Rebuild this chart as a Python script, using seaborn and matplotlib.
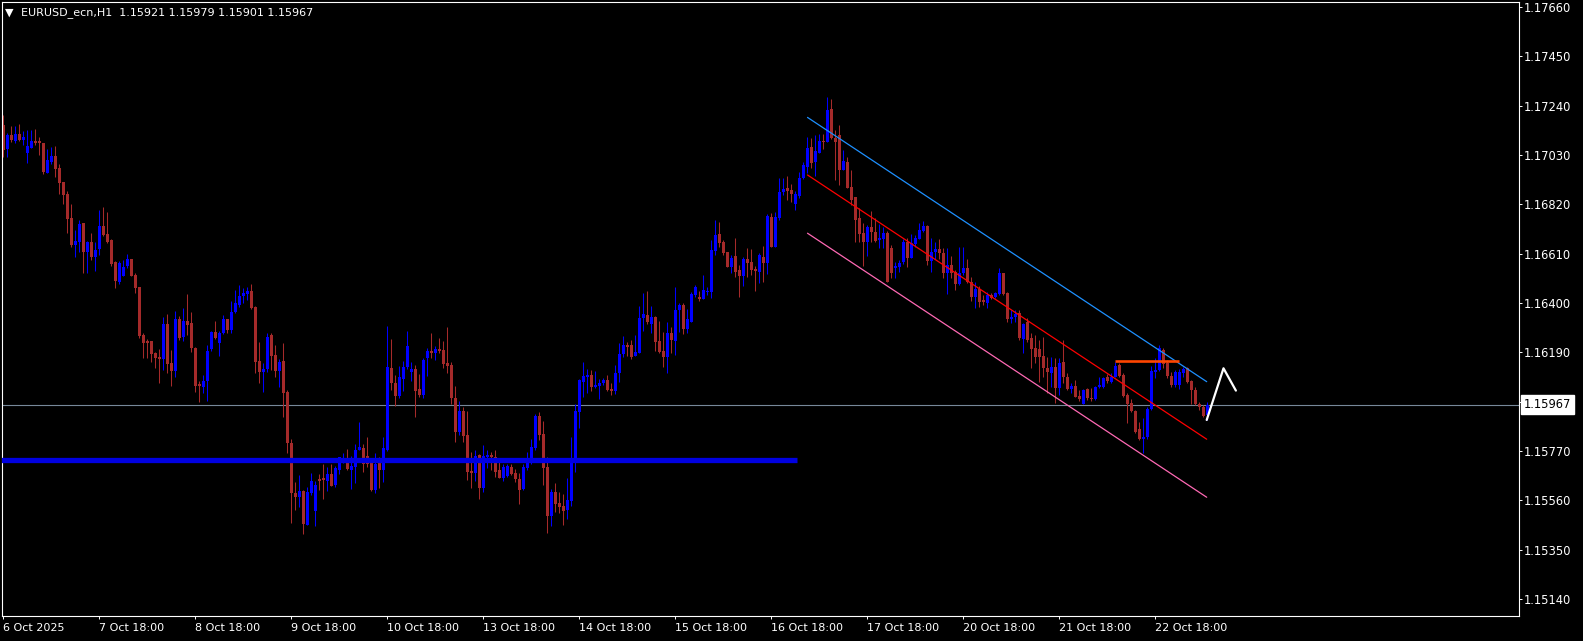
import numpy as np
import pandas as pd
import matplotlib
matplotlib.use("Agg")
import matplotlib.pyplot as plt
import seaborn as sns

# ---------------- data (EURUSD H1) ----------------
opens = [
    1.17158, 1.17055, 1.17115, 1.17091, 1.17119, 1.17094, 1.17037, 1.17061, 1.17089, 1.17089, 1.17081, 1.16955,
    1.17002, 1.17026, 1.16975, 1.16915, 1.16864, 1.16762, 1.16647, 1.16661, 1.16740, 1.16618, 1.16660, 1.16594,
    1.16628, 1.16728, 1.16694, 1.16668, 1.16574, 1.16491, 1.16516, 1.16559, 1.16587, 1.16519, 1.16468, 1.16262,
    1.16238, 1.16238, 1.16186, 1.16170, 1.16160, 1.16310, 1.16143, 1.16112, 1.16330, 1.16254, 1.16322, 1.16313,
    1.16210, 1.16055, 1.16044, 1.16068, 1.16203, 1.16275, 1.16228, 1.16271, 1.16330, 1.16285, 1.16363, 1.16393,
    1.16430, 1.16438, 1.16451, 1.16384, 1.16153, 1.16108, 1.16118, 1.16264, 1.16179, 1.16112, 1.16153, 1.16022,
    1.15805, 1.15593, 1.15576, 1.15601, 1.15455, 1.15590, 1.15516, 1.15651, 1.15654, 1.15644, 1.15672, 1.15625,
    1.15689, 1.15733, 1.15717, 1.15689, 1.15703, 1.15774, 1.15781, 1.15749, 1.15717, 1.15604, 1.15729, 1.15689,
    1.15774, 1.16125, 1.16061, 1.16004, 1.16075, 1.16126, 1.16108, 1.16119, 1.16032, 1.16008, 1.16164, 1.16196,
    1.16189, 1.16204, 1.16200, 1.16143, 1.16136, 1.15997, 1.15852, 1.15942, 1.15838, 1.15685, 1.15678, 1.15752,
    1.15614, 1.15743, 1.15752, 1.15746, 1.15689, 1.15656, 1.15664, 1.15703, 1.15675, 1.15651, 1.15607, 1.15696,
    1.15732, 1.15784, 1.15920, 1.15842, 1.15703, 1.15493, 1.15597, 1.15550, 1.15536, 1.15519, 1.15558, 1.15720,
    1.15937, 1.16065, 1.16083, 1.16093, 1.16041, 1.16048, 1.16059, 1.16072, 1.16034, 1.16027, 1.16101, 1.16183,
    1.16222, 1.16221, 1.16175, 1.16188, 1.16337, 1.16349, 1.16310, 1.16342, 1.16238, 1.16195, 1.16168, 1.16271,
    1.16239, 1.16370, 1.16391, 1.16289, 1.16320, 1.16434, 1.16427, 1.16415, 1.16448, 1.16448, 1.16623, 1.16694,
    1.16661, 1.16617, 1.16552, 1.16600, 1.16540, 1.16516, 1.16587, 1.16576, 1.16546, 1.16533, 1.16597, 1.16572,
    1.16767, 1.16640, 1.16760, 1.16871, 1.16888, 1.16881, 1.16820, 1.16857, 1.16931, 1.16980, 1.17064, 1.17002,
    1.17040, 1.17090, 1.17087, 1.17226, 1.17104, 1.17115, 1.16966, 1.16999, 1.16895, 1.16853, 1.16763, 1.16697,
    1.16661, 1.16725, 1.16704, 1.16668, 1.16672, 1.16699, 1.16636, 1.16547, 1.16555, 1.16576, 1.16661, 1.16593,
    1.16650, 1.16672, 1.16708, 1.16728, 1.16580, 1.16616, 1.16630, 1.16614, 1.16526, 1.16562, 1.16531, 1.16481,
    1.16526, 1.16550, 1.16488, 1.16427, 1.16460, 1.16413, 1.16399, 1.16434, 1.16427, 1.16438, 1.16526, 1.16444,
    1.16332, 1.16339, 1.16356, 1.16245, 1.16320, 1.16249, 1.16207, 1.16203, 1.16174, 1.16125, 1.16103, 1.16129,
    1.16040, 1.16147, 1.16086, 1.16032, 1.16047, 1.16005, 1.15970, 1.16032, 1.15997, 1.15990, 1.16041, 1.16041,
    1.16086, 1.16065, 1.16086, 1.16136, 1.16093, 1.16008, 1.15976, 1.15940, 1.15862, 1.15820, 1.15828, 1.15947,
    1.16108, 1.16115, 1.16200, 1.16146, 1.16089, 1.16051, 1.16051, 1.16100, 1.16122, 1.16068, 1.16030, 1.15970,
    1.15959, 1.15921,
]
highs = [
    1.17200, 1.17122, 1.17153, 1.17153, 1.17162, 1.17132, 1.17136, 1.17136, 1.17141, 1.17105, 1.17081, 1.17054,
    1.17065, 1.17068, 1.16992, 1.16915, 1.16878, 1.16821, 1.16711, 1.16753, 1.16740, 1.16665, 1.16696, 1.16661,
    1.16796, 1.16810, 1.16789, 1.16671, 1.16577, 1.16577, 1.16583, 1.16608, 1.16587, 1.16529, 1.16468, 1.16271,
    1.16245, 1.16238, 1.16193, 1.16203, 1.16342, 1.16353, 1.16200, 1.16367, 1.16345, 1.16377, 1.16438, 1.16361,
    1.16214, 1.16068, 1.16093, 1.16220, 1.16281, 1.16325, 1.16281, 1.16349, 1.16333, 1.16408, 1.16455, 1.16476,
    1.16462, 1.16469, 1.16481, 1.16387, 1.16235, 1.16143, 1.16274, 1.16274, 1.16221, 1.16160, 1.16228, 1.16030,
    1.15820, 1.15639, 1.15668, 1.15604, 1.15618, 1.15675, 1.15644, 1.15672, 1.15715, 1.15703, 1.15715, 1.15706,
    1.15746, 1.15760, 1.15778, 1.15749, 1.15800, 1.15895, 1.15800, 1.15831, 1.15732, 1.15763, 1.15746, 1.15828,
    1.16303, 1.16247, 1.16093, 1.16132, 1.16153, 1.16281, 1.16150, 1.16136, 1.16098, 1.16164, 1.16207, 1.16271,
    1.16217, 1.16250, 1.16240, 1.16296, 1.16150, 1.16047, 1.15983, 1.15959, 1.15940, 1.15767, 1.15774, 1.15756,
    1.15796, 1.15774, 1.15767, 1.15774, 1.15725, 1.15715, 1.15715, 1.15715, 1.15692, 1.15675, 1.15715, 1.15767,
    1.15820, 1.15927, 1.15937, 1.15898, 1.15746, 1.15607, 1.15635, 1.15597, 1.15587, 1.15656, 1.15831, 1.15970,
    1.16075, 1.16150, 1.16119, 1.16115, 1.16112, 1.16075, 1.16079, 1.16093, 1.16058, 1.16136, 1.16231, 1.16259,
    1.16234, 1.16242, 1.16263, 1.16387, 1.16444, 1.16452, 1.16387, 1.16345, 1.16325, 1.16275, 1.16320, 1.16299,
    1.16469, 1.16401, 1.16401, 1.16373, 1.16445, 1.16477, 1.16451, 1.16519, 1.16468, 1.16668, 1.16753, 1.16746,
    1.16668, 1.16618, 1.16604, 1.16675, 1.16562, 1.16594, 1.16633, 1.16628, 1.16557, 1.16611, 1.16643, 1.16777,
    1.16782, 1.16786, 1.16931, 1.16931, 1.16942, 1.16905, 1.16877, 1.16959, 1.17002, 1.17108, 1.17104, 1.17115,
    1.17118, 1.17118, 1.17275, 1.17268, 1.17136, 1.17158, 1.17051, 1.17023, 1.16966, 1.16853, 1.16806, 1.16739,
    1.16732, 1.16792, 1.16760, 1.16735, 1.16725, 1.16708, 1.16647, 1.16576, 1.16583, 1.16671, 1.16675, 1.16694,
    1.16689, 1.16739, 1.16749, 1.16732, 1.16675, 1.16661, 1.16672, 1.16633, 1.16633, 1.16601, 1.16540, 1.16640,
    1.16640, 1.16587, 1.16512, 1.16491, 1.16474, 1.16434, 1.16448, 1.16441, 1.16448, 1.16550, 1.16526, 1.16448,
    1.16370, 1.16370, 1.16370, 1.16316, 1.16335, 1.16271, 1.16264, 1.16242, 1.16254, 1.16171, 1.16171, 1.16164,
    1.16164, 1.16242, 1.16101, 1.16058, 1.16072, 1.16030, 1.16032, 1.16037, 1.16037, 1.16047, 1.16086, 1.16086,
    1.16098, 1.16101, 1.16150, 1.16143, 1.16101, 1.16015, 1.15990, 1.15944, 1.15895, 1.15909, 1.15959, 1.16132,
    1.16166, 1.16221, 1.16207, 1.16157, 1.16108, 1.16115, 1.16118, 1.16129, 1.16129, 1.16072, 1.16044, 1.15980,
    1.15966, 1.15979,
]
lows = [
    1.17020, 1.17020, 1.17087, 1.17082, 1.17089, 1.17072, 1.16997, 1.17061, 1.17071, 1.17030, 1.16949, 1.16955,
    1.16992, 1.16935, 1.16864, 1.16821, 1.16696, 1.16640, 1.16597, 1.16618, 1.16529, 1.16529, 1.16583, 1.16538,
    1.16604, 1.16685, 1.16657, 1.16557, 1.16465, 1.16481, 1.16516, 1.16547, 1.16515, 1.16444, 1.16252, 1.16167,
    1.16167, 1.16150, 1.16122, 1.16061, 1.16115, 1.16103, 1.16048, 1.16086, 1.16242, 1.16239, 1.16264, 1.16193,
    1.16021, 1.15980, 1.16015, 1.15984, 1.16197, 1.16248, 1.16176, 1.16266, 1.16273, 1.16271, 1.16356, 1.16384,
    1.16398, 1.16413, 1.16373, 1.16103, 1.16061, 1.16022, 1.16108, 1.16115, 1.16083, 1.16044, 1.15913, 1.15763,
    1.15465, 1.15519, 1.15533, 1.15417, 1.15455, 1.15583, 1.15452, 1.15604, 1.15564, 1.15601, 1.15622, 1.15618,
    1.15672, 1.15718, 1.15689, 1.15607, 1.15635, 1.15774, 1.15682, 1.15700, 1.15601, 1.15590, 1.15611, 1.15639,
    1.15771, 1.16030, 1.15961, 1.15994, 1.16027, 1.16118, 1.16069, 1.15916, 1.16001, 1.15994, 1.16089, 1.16164,
    1.16157, 1.16189, 1.16122, 1.16101, 1.15970, 1.15810, 1.15838, 1.15810, 1.15646, 1.15614, 1.15644, 1.15566,
    1.15597, 1.15696, 1.15689, 1.15658, 1.15654, 1.15644, 1.15661, 1.15668, 1.15639, 1.15544, 1.15604, 1.15689,
    1.15715, 1.15774, 1.15817, 1.15625, 1.15419, 1.15451, 1.15512, 1.15505, 1.15455, 1.15479, 1.15536, 1.15682,
    1.15866, 1.16001, 1.16015, 1.16027, 1.16037, 1.15993, 1.16051, 1.16027, 1.16010, 1.16011, 1.16065, 1.16171,
    1.16174, 1.16163, 1.16175, 1.16186, 1.16282, 1.16310, 1.16271, 1.16197, 1.16188, 1.16129, 1.16101, 1.16188,
    1.16178, 1.16278, 1.16268, 1.16271, 1.16320, 1.16424, 1.16410, 1.16415, 1.16434, 1.16420, 1.16604, 1.16640,
    1.16604, 1.16552, 1.16529, 1.16512, 1.16424, 1.16472, 1.16512, 1.16519, 1.16452, 1.16484, 1.16491, 1.16523,
    1.16640, 1.16640, 1.16753, 1.16860, 1.16838, 1.16831, 1.16796, 1.16846, 1.16926, 1.16952, 1.16976, 1.16942,
    1.17037, 1.17056, 1.17084, 1.17098, 1.16924, 1.16902, 1.16966, 1.16888, 1.16817, 1.16661, 1.16661, 1.16559,
    1.16601, 1.16661, 1.16658, 1.16633, 1.16636, 1.16491, 1.16508, 1.16508, 1.16533, 1.16565, 1.16555, 1.16590,
    1.16640, 1.16672, 1.16704, 1.16562, 1.16533, 1.16587, 1.16587, 1.16505, 1.16437, 1.16508, 1.16455, 1.16477,
    1.16519, 1.16484, 1.16408, 1.16380, 1.16384, 1.16391, 1.16380, 1.16416, 1.16420, 1.16434, 1.16434, 1.16320,
    1.16313, 1.16320, 1.16242, 1.16186, 1.16235, 1.16125, 1.16146, 1.16065, 1.16086, 1.16015, 1.16044, 1.15973,
    1.16008, 1.16058, 1.16030, 1.16015, 1.15998, 1.15984, 1.15970, 1.15987, 1.15984, 1.15987, 1.16037, 1.16037,
    1.16058, 1.16058, 1.16086, 1.16086, 1.16001, 1.15890, 1.15937, 1.15848, 1.15817, 1.15763, 1.15820, 1.15944,
    1.16080, 1.16112, 1.16122, 1.16079, 1.16044, 1.16044, 1.16032, 1.16083, 1.16061, 1.15968, 1.15966, 1.15944,
    1.15913, 1.15901,
]
closes = [
    1.17051, 1.17115, 1.17094, 1.17119, 1.17094, 1.17105, 1.17068, 1.17089, 1.17080, 1.17082, 1.16959, 1.17009,
    1.17026, 1.16970, 1.16912, 1.16860, 1.16756, 1.16647, 1.16664, 1.16736, 1.16618, 1.16660, 1.16597, 1.16625,
    1.16728, 1.16689, 1.16661, 1.16566, 1.16494, 1.16569, 1.16552, 1.16586, 1.16516, 1.16465, 1.16259, 1.16231,
    1.16231, 1.16183, 1.16167, 1.16161, 1.16310, 1.16140, 1.16112, 1.16330, 1.16249, 1.16322, 1.16308, 1.16210,
    1.16048, 1.16048, 1.16066, 1.16196, 1.16275, 1.16252, 1.16271, 1.16330, 1.16285, 1.16363, 1.16398, 1.16431,
    1.16441, 1.16451, 1.16380, 1.16150, 1.16108, 1.16119, 1.16254, 1.16174, 1.16112, 1.16150, 1.16018, 1.15805,
    1.15590, 1.15576, 1.15601, 1.15459, 1.15597, 1.15644, 1.15625, 1.15644, 1.15646, 1.15672, 1.15622, 1.15696,
    1.15743, 1.15740, 1.15692, 1.15706, 1.15774, 1.15786, 1.15715, 1.15715, 1.15604, 1.15715, 1.15689, 1.15781,
    1.16126, 1.16058, 1.16004, 1.16086, 1.16129, 1.16217, 1.16119, 1.16027, 1.16008, 1.16157, 1.16196, 1.16189,
    1.16203, 1.16197, 1.16140, 1.16132, 1.15994, 1.15852, 1.15942, 1.15834, 1.15682, 1.15678, 1.15749, 1.15614,
    1.15749, 1.15752, 1.15743, 1.15681, 1.15656, 1.15700, 1.15706, 1.15672, 1.15651, 1.15604, 1.15700, 1.15739,
    1.15786, 1.15920, 1.15838, 1.15696, 1.15493, 1.15597, 1.15544, 1.15530, 1.15514, 1.15561, 1.15720, 1.15941,
    1.16072, 1.16089, 1.16093, 1.16044, 1.16051, 1.16061, 1.16073, 1.16030, 1.16027, 1.16101, 1.16183, 1.16221,
    1.16214, 1.16171, 1.16191, 1.16337, 1.16353, 1.16320, 1.16342, 1.16235, 1.16192, 1.16168, 1.16271, 1.16242,
    1.16370, 1.16391, 1.16289, 1.16332, 1.16438, 1.16467, 1.16418, 1.16455, 1.16452, 1.16626, 1.16689, 1.16657,
    1.16614, 1.16552, 1.16590, 1.16533, 1.16516, 1.16586, 1.16572, 1.16540, 1.16538, 1.16603, 1.16572, 1.16770,
    1.16640, 1.16765, 1.16874, 1.16885, 1.16877, 1.16864, 1.16863, 1.16933, 1.16987, 1.17058, 1.16997, 1.17047,
    1.17090, 1.17084, 1.17222, 1.17101, 1.17087, 1.16966, 1.17004, 1.16891, 1.16838, 1.16753, 1.16692, 1.16661,
    1.16725, 1.16701, 1.16664, 1.16675, 1.16699, 1.16491, 1.16526, 1.16557, 1.16572, 1.16661, 1.16593, 1.16654,
    1.16678, 1.16711, 1.16728, 1.16580, 1.16616, 1.16630, 1.16611, 1.16529, 1.16562, 1.16526, 1.16481, 1.16526,
    1.16550, 1.16491, 1.16427, 1.16460, 1.16403, 1.16403, 1.16434, 1.16420, 1.16441, 1.16529, 1.16438, 1.16330,
    1.16342, 1.16353, 1.16249, 1.16309, 1.16242, 1.16204, 1.16169, 1.16171, 1.16122, 1.16108, 1.16126, 1.16040,
    1.16143, 1.16083, 1.16032, 1.16048, 1.16001, 1.15990, 1.16030, 1.15994, 1.15990, 1.16041, 1.16051, 1.16079,
    1.16068, 1.16086, 1.16133, 1.16089, 1.16005, 1.15970, 1.15940, 1.15852, 1.15820, 1.15831, 1.15947, 1.16112,
    1.16115, 1.16207, 1.16140, 1.16089, 1.16051, 1.16105, 1.16108, 1.16118, 1.16065, 1.16030, 1.15968, 1.15959,
    1.15919, 1.15967,
]

date_tick_bars = [0, 24, 48, 72, 96, 120, 144, 168, 192, 216, 240, 264, 288]
date_tick_labels = ["6 Oct 2025", "7 Oct 18:00", "8 Oct 18:00", "9 Oct 18:00", "10 Oct 18:00",
                    "13 Oct 18:00", "14 Oct 18:00", "15 Oct 18:00", "16 Oct 18:00", "17 Oct 18:00",
                    "20 Oct 18:00", "21 Oct 18:00", "22 Oct 18:00"]
price_ticks = [1.15140, 1.15350, 1.15560, 1.15770, 1.15980, 1.16190, 1.16400,
               1.16610, 1.16820, 1.17030, 1.17240, 1.17450, 1.17660]
price_tick_labels = ["1.15140", "1.15350", "1.15560", "1.15770", "", "1.16190", "1.16400",
                     "1.16610", "1.16820", "1.17030", "1.17240", "1.17450", "1.17660"]
symbol_text = "EURUSD_ecn,H1  1.15921 1.15979 1.15901 1.15967"
last_price = 1.15967

support_price = 1.15730
support_bars = [-1.0, 198.3]
channel_bars = [201.0, 300.8]
channel_upper = [1.17190, 1.16065]
channel_middle = [1.16945, 1.15820]
channel_lower = [1.16697, 1.15573]
resistance_price = 1.16154
resistance_bars = [277.9, 294.0]
zigzag_bars = [300.8, 305.0, 308.1]
zigzag_prices = [1.15902, 1.16122, 1.16027]

# ---------------- figure ----------------
W, H = 1583, 641
sns.set_theme(style="dark", rc={"axes.facecolor": "black", "figure.facecolor": "black",
                                "axes.grid": False})
plt.rcParams["font.family"] = ["DejaVu Sans"]

fig = plt.figure(figsize=(W / 100, H / 100), dpi=100)
left_px, right_px, top_px, bottom_px = 2, 1519, 2, 616
ax = fig.add_axes([left_px / W, (H - bottom_px) / H, (right_px - left_px) / W, (bottom_px - top_px) / H])
ax.set_facecolor("black")

df = pd.DataFrame({"open": opens, "high": highs, "low": lows, "close": closes})
df["bar"] = np.arange(len(df))
bull = df["close"] >= df["open"]
col_bull, col_bear = "#0000FF", "#A52A2A"
colors = np.where(bull, col_bull, col_bear)

# wicks
ax.vlines(df["bar"], df["low"], df["high"], colors=colors, linewidth=0.75, zorder=2)
# bodies
body_low = np.minimum(df["open"], df["close"])
body_h = np.maximum(np.abs(df["close"] - df["open"]), 0.00003)
ax.bar(df["bar"], body_h, bottom=body_low, width=0.75, color=colors, linewidth=0, zorder=2)

# last price line
ax.axhline(last_price, color="#778899", linewidth=0.8, zorder=1)

# support (thick blue)
ax.plot(support_bars, [support_price, support_price], color="#0000E0", linewidth=3.8,
        solid_capstyle="butt", zorder=3)

# channel lines via seaborn
chan = pd.DataFrame({
    "bar": channel_bars * 3,
    "price": channel_upper + channel_middle + channel_lower,
    "line": ["upper"] * 2 + ["middle"] * 2 + ["lower"] * 2,
})
sns.lineplot(data=chan, x="bar", y="price", hue="line", sort=False, legend=False, ax=ax,
             palette={"upper": "#1E90FF", "middle": "#FF0000", "lower": "#FF69B4"},
             linewidth=0.9, zorder=3)

# resistance (orange)
ax.plot(resistance_bars, [resistance_price, resistance_price], color="#FF4500", linewidth=1.9,
        solid_capstyle="butt", zorder=3)

# zigzag projection
zz = pd.DataFrame({"bar": zigzag_bars, "price": zigzag_prices})
sns.lineplot(data=zz, x="bar", y="price", sort=False, color="white", linewidth=1.6, ax=ax, zorder=4)

# ---------------- axes styling ----------------
ax.set_xlim((left_px - 3.5) / 4, (right_px - 3.5) / 4)
ppx = 0.0021 / 49.33
y_top = 1.17660 + (7 - top_px) * ppx
y_bot = 1.17660 - (bottom_px - 7) * ppx
ax.set_ylim(y_bot, y_top)
ax.set_xlabel("")
ax.set_ylabel("")

for s in ax.spines.values():
    s.set_color("white")
    s.set_linewidth(0.8)
    s.set_visible(True)

ax.yaxis.tick_right()
ax.set_yticks(price_ticks)
ax.set_yticklabels(price_tick_labels)
ax.tick_params(axis="y", which="both", direction="out", length=2.5, width=0.7, colors="white",
               labelsize=8.3, pad=1.2, left=False, right=True)
ax.set_xticks(date_tick_bars)
ax.set_xticklabels(date_tick_labels)
ax.tick_params(axis="x", which="both", direction="out", length=2.5, width=0.7, colors="white",
               labelsize=8, pad=2.5, bottom=True)
for lab in ax.get_xticklabels():
    lab.set_horizontalalignment("left")
for lab in ax.get_yticklabels():
    lab.set_color("white")

# last price label box
ax.annotate(f"{last_price:.5f}", xy=(1.0, last_price), xycoords=("axes fraction", "data"),
            xytext=(5, 0), textcoords="offset pixels", ha="left", va="center",
            fontsize=8.3, color="black", annotation_clip=False,
            bbox=dict(boxstyle="square,pad=0.25", facecolor="white", edgecolor="white"))

# symbol header
fig.text(5 / W, 1 - 13 / H, "▼", color="white", fontsize=8, ha="left", va="center")
fig.text(21 / W, 1 - 13 / H, symbol_text, color="white", fontsize=8, ha="left", va="center")

fig.savefig("out.png", dpi=100, facecolor="black")
